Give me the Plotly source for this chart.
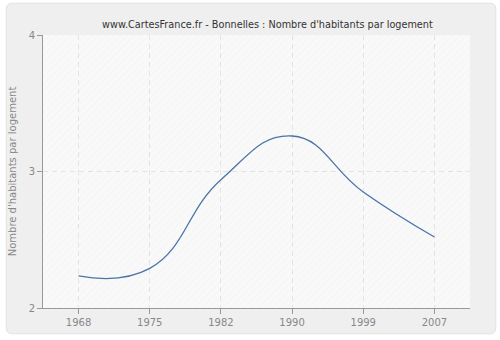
import plotly.graph_objects as go

# Census years and average household size
years = ["1968", "1975", "1982", "1990", "1999", "2007"]
persons_per_home = [2.235, 2.29, 2.94, 3.26, 2.85, 2.52]
y_ticks = [2, 3, 4]

W, H = 500, 340
ML, MR, MT, MB = 40, 30, 35, 30
PW, PH = W - ML - MR, H - MT - MB


def px_x(px):
    return (px - ML) / PW


def px_y(py):
    return (H - MB - py) / PH


fig = go.Figure()

# hatched plot background (transparent so the dashed grid stays visible)
fig.add_trace(go.Scatter(
    x=[-0.5, 5.5, 5.5, -0.5, -0.5], y=[2, 2, 4, 4, 2],
    mode="none", fill="toself",
    fillcolor="rgba(0,0,0,0)",
    fillpattern=dict(shape="/", fgcolor="rgba(0,0,0,0.06)", bgcolor="rgba(0,0,0,0)",
                     size=5, solidity=0.15),
    hoverinfo="skip", showlegend=False,
))

fig.add_trace(go.Scatter(
    x=list(range(len(years))), y=persons_per_home, mode="lines",
    line=dict(color="#4a74a8", width=1.3, shape="spline", smoothing=1.3),
    showlegend=False,
))

# rounded outer frame
x0, x1 = px_x(3), px_x(496)
y0, y1 = px_y(3), px_y(336)
r = 6
rx, ry = r / PW, r / PH
path = (f"M {x0+rx},{y0} L {x1-rx},{y0} Q {x1},{y0} {x1},{y0-ry} "
        f"L {x1},{y1+ry} Q {x1},{y1} {x1-rx},{y1} L {x0+rx},{y1} "
        f"Q {x0},{y1} {x0},{y1+ry} L {x0},{y0-ry} Q {x0},{y0} {x0+rx},{y0} Z")

fig.update_layout(
    width=W, height=H,
    margin=dict(l=ML, r=MR, t=MT, b=MB),
    paper_bgcolor="white",
    plot_bgcolor="rgba(0,0,0,0)",
    font=dict(family="DejaVu Sans", size=10, color="#888"),
    title=dict(text="www.CartesFrance.fr - Bonnelles : Nombre d'habitants par logement",
               x=px_x(266), xref="paper", xanchor="center", y=1 - 25 / H, yanchor="middle",
               font=dict(size=9.7, color="#333")),
    shapes=[
        dict(type="path", path=path, xref="paper", yref="paper",
             fillcolor="#efefef", line=dict(color="#e2e2e2", width=1), layer="below"),
        dict(type="rect", x0=0, x1=1, y0=0, y1=1, xref="paper", yref="paper",
             fillcolor="#f9f9f9", line=dict(width=0), layer="below"),
    ],
    xaxis=dict(range=[-0.5, 5.5], tickvals=list(range(len(years))), ticktext=years,
               showgrid=True, gridcolor="#e4e4e4", griddash="5px,4px", gridwidth=1,
               showline=True, linecolor="#999", linewidth=1,
               ticks="outside", ticklen=5, tickcolor="#999",
               tickfont=dict(size=10, color="#888"), zeroline=False),
    yaxis=dict(range=[2, 4], tickvals=y_ticks, showgrid=True,
               gridcolor="#e4e4e4", griddash="5px,4px", gridwidth=1,
               showline=True, linecolor="#999", linewidth=1,
               ticks="outside", ticklen=5, tickcolor="#999",
               tickfont=dict(size=10, color="#888"), zeroline=False,
               title=dict(text="Nombre d'habitants par logement",
                          font=dict(size=10, color="#888"), standoff=10)),
)

fig.write_html("out.html")
